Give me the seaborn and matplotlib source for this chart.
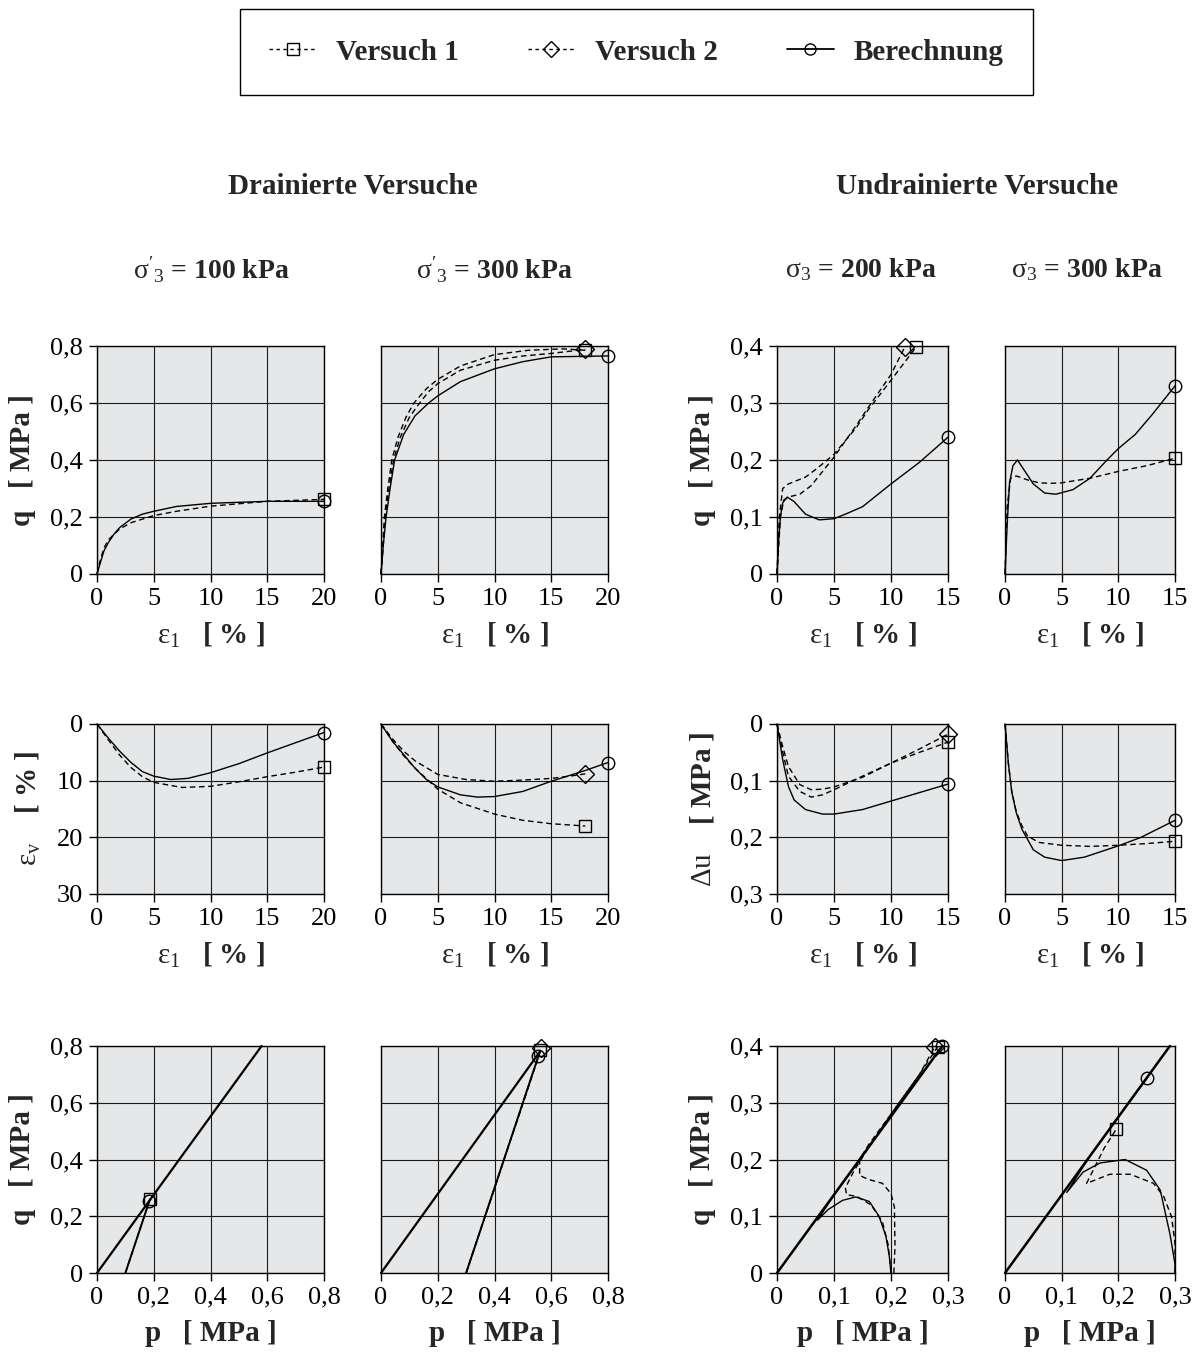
import matplotlib
matplotlib.use('Agg')
import matplotlib.pyplot as plt
from matplotlib.lines import Line2D
from matplotlib.ticker import FuncFormatter
import seaborn as sns

# ---------------- Daten ----------------
# Drainiert, sigma3' = 100 kPa
a1_eps_ber = [0, 0.3, 0.6, 1, 1.5, 2, 3, 4, 5, 7, 10, 15, 20]
a1_q_ber = [0, 0.04, 0.08, 0.11, 0.14, 0.163, 0.193, 0.21, 0.22, 0.237, 0.248, 0.255, 0.255]
a1_eps_v1 = [0, 0.3, 0.6, 1, 2, 3, 5, 7, 10, 15, 20]
a1_q_v1 = [0, 0.05, 0.09, 0.12, 0.158, 0.18, 0.205, 0.22, 0.238, 0.255, 0.262]
a2_eps_ber = [0, 1, 2, 3, 4, 5, 6.5, 8, 10, 12.5, 15, 17.5, 20]
a2_ev_ber = [0, 2.5, 4.8, 6.8, 8.4, 9.2, 9.8, 9.6, 8.6, 7.0, 5.1, 3.3, 1.5]
a2_eps_v1 = [0, 1, 2, 3, 4, 5, 7.5, 10, 12.5, 15, 17.5, 20]
a2_ev_v1 = [0, 2.8, 5.5, 7.7, 9.3, 10.3, 11.2, 11.0, 10.2, 9.3, 8.5, 7.6]
a3_csl_p = [0, 0.58]
a3_csl_q = [0, 0.8]
a3_p_ber = [0.1, 0.185]
a3_q_ber = [0, 0.255]
a3_p_v1 = [0.1, 0.187]
a3_q_v1 = [0, 0.262]

# Drainiert, sigma3' = 300 kPa
b1_eps_ber = [0, 0.2, 0.45, 0.8, 1.2, 2, 3, 4.2, 5, 7, 10, 12.5, 15, 20]
b1_q_ber = [0, 0.1, 0.2, 0.3, 0.4, 0.49, 0.555, 0.6, 0.625, 0.675, 0.72, 0.745, 0.762, 0.765]
b1_eps_v1 = [0, 0.15, 0.3, 0.6, 0.95, 1.5, 2.2, 2.9, 4, 5, 7, 10, 13, 16, 18]
b1_q_v1 = [0, 0.1, 0.2, 0.3, 0.4, 0.48, 0.55, 0.6, 0.65, 0.683, 0.73, 0.77, 0.785, 0.79, 0.785]
b1_eps_v2 = [0, 0.2, 0.35, 0.7, 1.1, 1.7, 2.5, 3.4, 4.2, 5, 7, 10, 12.5, 15, 18]
b1_q_v2 = [0, 0.1, 0.2, 0.3, 0.4, 0.48, 0.55, 0.6, 0.64, 0.668, 0.715, 0.75, 0.765, 0.774, 0.788]
b2_eps_ber = [0, 1, 2, 3, 4, 5, 7, 8.5, 10, 12.5, 15, 18, 20]
b2_ev_ber = [0, 3.0, 5.4, 7.8, 9.8, 11.1, 12.5, 12.9, 12.8, 11.9, 10.1, 8.2, 6.8]
b2_eps_v1 = [0, 1, 2, 3, 5, 7, 10, 12.5, 15, 18]
b2_ev_v1 = [0, 3.0, 5.6, 7.8, 11.5, 13.9, 15.9, 17.0, 17.6, 18.0]
b2_eps_v2 = [0, 1, 2, 3, 5, 7.5, 10, 12.5, 15, 17, 18]
b2_ev_v2 = [0, 2.6, 4.8, 6.5, 8.9, 9.8, 10.1, 9.9, 9.6, 9.1, 8.8]
b3_csl_p = [0, 0.56]
b3_csl_q = [0, 0.78]
b3_p_ber = [0.3, 0.555]
b3_q_ber = [0, 0.765]
b3_p_v1 = [0.3, 0.562]
b3_q_v1 = [0, 0.785]
b3_p_v2 = [0.3, 0.565]
b3_q_v2 = [0, 0.792]

# Undrainiert, sigma3 = 200 kPa
c1_eps_ber = [0, 0.15, 0.3, 0.5, 0.9, 1.5, 2.5, 3.7, 5, 6, 7.5, 10, 12.5, 15]
c1_q_ber = [0, 0.06, 0.1, 0.125, 0.135, 0.127, 0.105, 0.095, 0.097, 0.105, 0.118, 0.158, 0.196, 0.24]
c1_eps_v1 = [0, 0.2, 0.5, 1, 2.5, 3.5, 5, 7, 8, 10, 12.2]
c1_q_v1 = [0, 0.1, 0.15, 0.158, 0.17, 0.185, 0.21, 0.258, 0.288, 0.34, 0.398]
c1_eps_v2 = [0, 0.3, 0.6, 1, 2, 3, 4, 5, 7, 8, 10, 11.2]
c1_q_v2 = [0, 0.1, 0.13, 0.135, 0.14, 0.155, 0.18, 0.205, 0.262, 0.292, 0.35, 0.398]
c2_eps_ber = [0, 0.5, 1, 1.5, 2.5, 4, 5, 7.5, 10, 12.5, 15]
c2_du_ber = [0, 0.063, 0.11, 0.134, 0.151, 0.159, 0.159, 0.151, 0.136, 0.121, 0.106]
c2_eps_v1 = [0, 0.5, 1, 2, 3, 4, 5, 7.5, 10, 12.5, 15]
c2_du_v1 = [0, 0.05, 0.092, 0.119, 0.129, 0.125, 0.116, 0.092, 0.069, 0.05, 0.032]
c2_eps_v2 = [0, 0.5, 1, 2, 3, 4, 5, 7.5, 10, 12.5, 15]
c2_du_v2 = [0, 0.04, 0.075, 0.107, 0.116, 0.115, 0.111, 0.094, 0.069, 0.044, 0.018]
c3_csl_p = [0, 0.29]
c3_csl_q = [0, 0.4]
c3_p_ber = [0.2, 0.197, 0.191, 0.179, 0.162, 0.138, 0.115, 0.09, 0.071, 0.1, 0.15, 0.2, 0.25, 0.29]
c3_q_ber = [0, 0.03, 0.065, 0.1, 0.126, 0.134, 0.128, 0.112, 0.093, 0.137, 0.207, 0.276, 0.345, 0.4]
c3_p_v1 = [0.205, 0.207, 0.206, 0.2, 0.185, 0.16, 0.145, 0.145, 0.16, 0.2, 0.25, 0.282]
c3_q_v1 = [0, 0.046, 0.116, 0.14, 0.158, 0.165, 0.172, 0.2, 0.225, 0.28, 0.35, 0.399]
c3_p_v2 = [0.2, 0.195, 0.185, 0.165, 0.14, 0.122, 0.12, 0.135, 0.16, 0.2, 0.25, 0.277]
c3_q_v2 = [0, 0.05, 0.09, 0.12, 0.135, 0.138, 0.15, 0.18, 0.22, 0.28, 0.35, 0.399]

# Undrainiert, sigma3 = 300 kPa
d1_eps_ber = [0, 0.2, 0.4, 0.7, 1.1, 1.6, 2.5, 3.5, 4.5, 6, 7.5, 9, 10, 11.5, 13, 15]
d1_q_ber = [0, 0.09, 0.16, 0.19, 0.2, 0.185, 0.158, 0.142, 0.14, 0.148, 0.168, 0.2, 0.22, 0.245, 0.28, 0.33]
d1_eps_v1 = [0, 0.2, 0.5, 1, 2, 3, 4, 5, 7.5, 10, 12.5, 15]
d1_q_v1 = [0, 0.12, 0.168, 0.172, 0.165, 0.16, 0.159, 0.16, 0.168, 0.18, 0.19, 0.203]
d2_eps_ber = [0, 0.3, 0.6, 1, 1.5, 2.5, 3.5, 5, 7, 10, 12, 15]
d2_du_ber = [0, 0.07, 0.12, 0.157, 0.186, 0.222, 0.235, 0.241, 0.235, 0.215, 0.2, 0.17]
d2_eps_v1 = [0, 0.3, 0.6, 1, 1.5, 2, 3, 5, 7.5, 10, 12.5, 15]
d2_du_v1 = [0, 0.07, 0.12, 0.155, 0.18, 0.198, 0.209, 0.214, 0.216, 0.214, 0.211, 0.207]
d3_csl_p = [0, 0.291]
d3_csl_q = [0, 0.4]
d3_p_ber = [0.3, 0.3, 0.291, 0.274, 0.25, 0.212, 0.168, 0.138, 0.109, 0.15, 0.2, 0.251]
d3_q_ber = [0, 0.016, 0.069, 0.146, 0.181, 0.2, 0.194, 0.178, 0.142, 0.206, 0.275, 0.344]
d3_p_v1 = [0.3, 0.3, 0.294, 0.28, 0.262, 0.221, 0.185, 0.144, 0.155, 0.175, 0.196]
d3_q_v1 = [0, 0.052, 0.099, 0.135, 0.158, 0.174, 0.174, 0.158, 0.18, 0.22, 0.253]

# ---------------- Stil ----------------
sns.set_style('darkgrid', rc={
    'axes.facecolor': '#e6e7e8',
    'axes.edgecolor': 'black',
    'axes.linewidth': 1.0,
    'grid.color': '#1a1a1a',
    'grid.linewidth': 0.9,
    'xtick.bottom': True,
    'ytick.left': True,
    'xtick.color': 'black',
    'ytick.color': 'black',
})
plt.rcParams['font.family'] = ['Liberation Serif', 'DejaVu Serif']
plt.rcParams['mathtext.fontset'] = 'custom'
plt.rcParams['mathtext.rm'] = 'Liberation Serif'
plt.rcParams['mathtext.it'] = 'Liberation Serif:italic'
plt.rcParams['mathtext.bf'] = 'Liberation Serif:bold'
plt.rcParams['mathtext.default'] = 'regular'

W, H = 1194, 1355
fig = plt.figure(figsize=(W / 100, H / 100), dpi=100)

def rect(l, t, w, h):
    return [l / W, 1 - (t + h) / H, w / W, h / H]

col_l = [97, 381, 777, 1005]
col_w = [227, 227, 171, 170]
row_t = [346, 724, 1046]
row_h = [228, 170, 227]

DASH = (0, (4, 2.6))
komma = FuncFormatter(lambda v, pos: '0' if abs(v) < 1e-9 else f'{v:g}'.replace('.', ','))

def kurve(ax, x, y, ls='-', mk=None, lw=1.0):
    kw = dict(marker=mk, markevery=[len(x) - 1], markersize=9,
              markerfacecolor='none', markeredgecolor='k', markeredgewidth=1.0) if mk else {}
    sns.lineplot(x=x, y=y, ax=ax, sort=False, estimator=None, color='k',
                 linestyle=ls, linewidth=lw, clip_on=False, **kw)

def panel(r, c, serien, xlim, ylim, xt, yt, xlab, ylab=None, invert=False):
    ax = fig.add_axes(rect(col_l[c], row_t[r], col_w[c], row_h[r]))
    for s in serien:
        kurve(ax, *s)
    ax.set_xlim(*xlim)
    ax.set_ylim(*(ylim[::-1] if invert else ylim))
    ax.set_xticks(xt)
    ax.set_yticks(yt)
    ax.xaxis.set_major_formatter(komma)
    ax.yaxis.set_major_formatter(komma)
    ax.tick_params(labelsize=19, length=6, width=1, pad=4)
    ax.set_xlabel(xlab, fontsize=21, labelpad=8,
                  fontweight='bold' if xlab.startswith('p') else 'normal')
    if ylab:
        ax.set_ylabel(ylab, fontsize=21, labelpad=10,
                      fontweight='bold' if ylab.startswith('q') else 'normal')
    else:
        ax.set_ylabel('')
        ax.tick_params(axis='y', labelleft=False, length=0)
    for sp in ax.spines.values():
        sp.set_color('black')
        sp.set_linewidth(1.0)
    return ax

lab_eps = r'ε$_1$   $\mathbf{[\ \%\ ]}$'
lab_p = 'p   [ MPa ]'
lab_q = 'q   [ MPa ]'
lab_ev = r'ε$_\mathrm{v}$    $\mathbf{[\ \%\ ]}$'
lab_du = r'Δu    $\mathbf{[\ MPa\ ]}$'

q8 = [0, 0.2, 0.4, 0.6, 0.8]
q4 = [0, 0.1, 0.2, 0.3, 0.4]
e20 = [0, 5, 10, 15, 20]
e15 = [0, 5, 10, 15]
p3 = [0, 0.1, 0.2, 0.3]

# Zeile 1: q - eps1
panel(0, 0, [(a1_eps_v1, a1_q_v1, DASH, 's'), (a1_eps_ber, a1_q_ber, '-', 'o')],
      (0, 20), (0, 0.8), e20, q8, lab_eps, lab_q)
panel(0, 1, [(b1_eps_v1, b1_q_v1, DASH, 's'), (b1_eps_v2, b1_q_v2, DASH, 'D'),
             (b1_eps_ber, b1_q_ber, '-', 'o')],
      (0, 20), (0, 0.8), e20, q8, lab_eps)
panel(0, 2, [(c1_eps_v1, c1_q_v1, DASH, 's'), (c1_eps_v2, c1_q_v2, DASH, 'D'),
             (c1_eps_ber, c1_q_ber, '-', 'o')],
      (0, 15), (0, 0.4), e15, q4, lab_eps, lab_q)
panel(0, 3, [(d1_eps_v1, d1_q_v1, DASH, 's'), (d1_eps_ber, d1_q_ber, '-', 'o')],
      (0, 15), (0, 0.4), e15, q4, lab_eps)

# Zeile 2: eps_v bzw. delta u
panel(1, 0, [(a2_eps_v1, a2_ev_v1, DASH, 's'), (a2_eps_ber, a2_ev_ber, '-', 'o')],
      (0, 20), (0, 30), e20, [0, 10, 20, 30], lab_eps, lab_ev, invert=True)
panel(1, 1, [(b2_eps_v1, b2_ev_v1, DASH, 's'), (b2_eps_v2, b2_ev_v2, DASH, 'D'),
             (b2_eps_ber, b2_ev_ber, '-', 'o')],
      (0, 20), (0, 30), e20, [0, 10, 20, 30], lab_eps, invert=True)
panel(1, 2, [(c2_eps_v1, c2_du_v1, DASH, 's'), (c2_eps_v2, c2_du_v2, DASH, 'D'),
             (c2_eps_ber, c2_du_ber, '-', 'o')],
      (0, 15), (0, 0.3), e15, [0, 0.1, 0.2, 0.3], lab_eps, lab_du, invert=True)
panel(1, 3, [(d2_eps_v1, d2_du_v1, DASH, 's'), (d2_eps_ber, d2_du_ber, '-', 'o')],
      (0, 15), (0, 0.3), e15, [0, 0.1, 0.2, 0.3], lab_eps, invert=True)

# Zeile 3: p - q
panel(2, 0, [(a3_csl_p, a3_csl_q, '-', None, 1.6), (a3_p_v1, a3_q_v1, DASH, 's'),
             (a3_p_ber, a3_q_ber, '-', 'o', 1.4)],
      (0, 0.8), (0, 0.8), q8, q8, lab_p, lab_q)
panel(2, 1, [(b3_csl_p, b3_csl_q, '-', None, 1.6), (b3_p_v1, b3_q_v1, DASH, 's'),
             (b3_p_v2, b3_q_v2, DASH, 'D'), (b3_p_ber, b3_q_ber, '-', 'o', 1.4)],
      (0, 0.8), (0, 0.8), q8, q8, lab_p)
panel(2, 2, [(c3_csl_p, c3_csl_q, '-', None, 1.8), (c3_p_v1, c3_q_v1, DASH, 's'),
             (c3_p_v2, c3_q_v2, DASH, 'D'), (c3_p_ber, c3_q_ber, '-', 'o')],
      (0, 0.3), (0, 0.4), p3, q4, lab_p, lab_q)
panel(2, 3, [(d3_csl_p, d3_csl_q, '-', None, 1.8), (d3_p_v1, d3_q_v1, DASH, 's'),
             (d3_p_ber, d3_q_ber, '-', 'o')],
      (0, 0.3), (0, 0.4), p3, q4, lab_p)

# Überschriften
fig.text(353 / W, 1 - 186 / H, 'Drainierte Versuche', ha='center', va='center',
         fontsize=21, fontweight='bold')
fig.text(977 / W, 1 - 186 / H, 'Undrainierte Versuche', ha='center', va='center',
         fontsize=21, fontweight='bold')
for xp, s in [(211, r"$\mathrm{\sigma'_3}$ = 100 kPa"), (494, r"$\mathrm{\sigma'_3}$ = 300 kPa"),
              (861, r"$\mathrm{\sigma_3}$ = 200 kPa"), (1087, r"$\mathrm{\sigma_3}$ = 300 kPa")]:
    fig.text(xp / W, 1 - 270 / H, s, ha='center', va='center', fontsize=20,
             fontweight='bold')

# Legende
mk = dict(color='k', markersize=8, markerfacecolor='none', markeredgecolor='k', markeredgewidth=1.0)
handles = [Line2D([], [], linestyle=(0, (2.5, 2.5)), marker='s', lw=1.0, **mk),
           Line2D([], [], linestyle=(0, (2.5, 2.5)), marker='D', lw=1.0, **mk),
           Line2D([], [], linestyle='-', marker='o', lw=1.3, **mk)]
leg = fig.legend(handles, ['Versuch 1', 'Versuch 2', 'Berechnung'],
                 loc='center', bbox_to_anchor=(240 / W, 1 - 97 / H, 793 / W, 90 / H),
                 mode='expand', ncol=3, borderaxespad=0, borderpad=1.0,
                 handlelength=1.6, handletextpad=0.7, fancybox=False,
                 framealpha=1, edgecolor='black', facecolor='white',
                 prop={'weight': 'bold', 'size': 21})
leg.get_frame().set_linewidth(1.0)

fig.savefig('out.png', dpi=100, facecolor='white')
